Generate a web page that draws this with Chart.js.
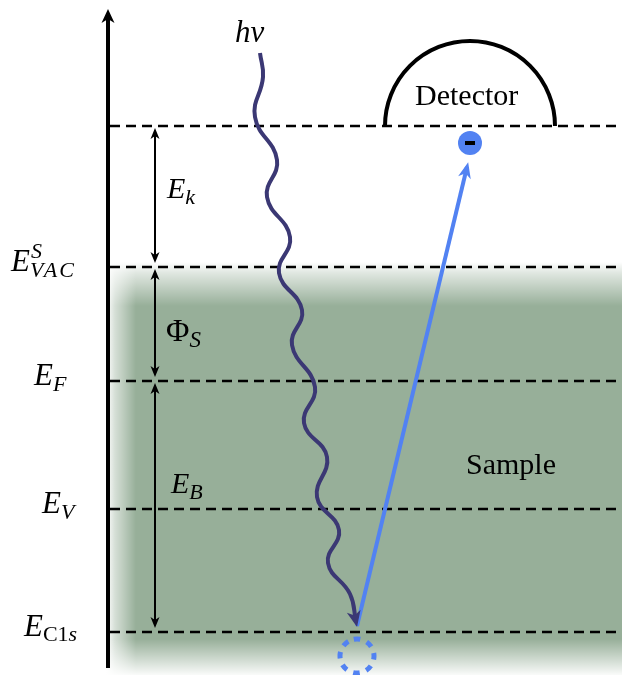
<!DOCTYPE html>
<html>
<head>
<meta charset="utf-8">
<script src="https://cdn.jsdelivr.net/npm/chart.js@4/dist/chart.umd.min.js"></script>
<style>
html, body { margin: 0; padding: 0; background: #fff; }
#diagrama { display: block; }
</style>
</head>
<body>
<canvas id="diagrama" width="622" height="675"></canvas>
<script>
// energy levels (picture units, y grows downwards)
var niveis = [126, 267, 381, 509, 632]
var nomesNiveis = [null, ['E', 'VAC', 'S'], ['E', 'F', ''], ['E', 'V', ''], ['E', 'C1s', '']]
// double arrows next to the axis: [top, bottom]
var setasEnergia = [[126, 267], [267, 381], [381, 632]]
var nomesSetas = [['E', 'k'], ['Φ', 'S'], ['E', 'B']]
// photon path (h nu)
var fotonX = [260, 263, 255, 277, 267, 290, 279, 302, 292, 315, 304, 327, 317, 339, 328, 350, 356]
var fotonY = [53, 77, 117, 160, 197, 237, 273, 310, 345, 387, 423, 457, 497, 530, 563, 594, 622]
// photoelectron path
var eletronX = [357, 467]
var eletronY = [626, 167]
var detector = { x: 470, y: 126, raio: 85 }
var lacuna = { x: 357, y: 656, raio: 17 }

var verde = 'rgb(151,175,153)'
var roxo = '#3b3874'
var azul = '#5282f2'
var serif = '"Liberation Serif", "DejaVu Serif", serif'

function pares(xs, ys) {
	var out = []
	for (var i = 0; i < xs.length; i++) out.push({ x: xs[i], y: ys[i] })
	return out
}

var datasets = []

// axis
datasets.push({
	data: [{ x: 108, y: 668 }, { x: 108, y: 14 }],
	borderColor: '#000', borderWidth: 4, setaFim: { comp: 14, larg: 6.5 }, order: 1
})

niveis.forEach(function (n) {
	datasets.push({
		data: [{ x: 110, y: n }, { x: 622, y: n }],
		borderColor: '#000', borderWidth: 2.5, borderDash: [10, 6], order: 3
	})
})

setasEnergia.forEach(function (s) {
	datasets.push({
		data: [{ x: 155, y: s[0] + 9 }, { x: 155, y: s[1] - 9 }],
		borderColor: '#000', borderWidth: 2,
		setaInicio: { comp: 11, larg: 4.5 }, setaFim: { comp: 11, larg: 4.5 }, order: 2
	})
})

datasets.push({
	data: pares(fotonX, fotonY),
	borderColor: roxo, borderWidth: 4, tension: 0.45,
	setaFim: { comp: 16, larg: 7 }, order: 1
})

datasets.push({
	data: pares(eletronX, eletronY),
	borderColor: azul, borderWidth: 4,
	setaFim: { comp: 16, larg: 6.5 }, order: 1
})

datasets.push({
	data: [{ x: 470, y: 143 }],
	showLine: false, pointRadius: 12, pointBackgroundColor: azul, pointBorderWidth: 0, order: 0
})

function ponta(ctx, x, y, ang, comp, larg, cor) {
	ctx.save()
	ctx.translate(x, y)
	ctx.rotate(ang)
	ctx.beginPath()
	ctx.moveTo(0, 0)
	ctx.lineTo(-comp, -larg)
	ctx.lineTo(-comp * 0.72, 0)
	ctx.lineTo(-comp, larg)
	ctx.closePath()
	ctx.fillStyle = cor
	ctx.fill()
	ctx.restore()
}

function rotulo(ctx, base, sub, sup, x, y, tam, baseReta) {
	ctx.textBaseline = 'alphabetic'
	ctx.textAlign = 'left'
	ctx.fillStyle = '#000'
	ctx.font = (baseReta ? '' : 'italic ') + tam + 'px ' + serif
	ctx.fillText(base, x, y)
	var w = ctx.measureText(base).width
	var t2 = Math.round(tam * 0.72)
	if (sup) {
		ctx.font = 'italic ' + t2 + 'px ' + serif
		ctx.fillText(sup, x + w + 1, y - 13)
	}
	if (sub) {
		var xs = x + w
		if (sub == 'C1s') {
			ctx.font = t2 + 'px ' + serif
			ctx.fillText('C1', xs, y + 5)
			xs += ctx.measureText('C1').width
			ctx.font = 'italic ' + t2 + 'px ' + serif
			ctx.fillText('s', xs, y + 5)
		} else {
			ctx.font = 'italic ' + t2 + 'px ' + serif
			ctx.letterSpacing = sub.length > 1 ? '2px' : '0px'
			ctx.fillText(sub, xs, y + 6)
			ctx.letterSpacing = '0px'
		}
	}
}

var fundoAmostra = {
	id: 'fundoAmostra',
	beforeDatasetsDraw: function (chart) {
		var ctx = chart.ctx, sx = chart.scales.x, sy = chart.scales.y
		var x0 = sx.getPixelForValue(106), x1 = sx.getPixelForValue(622)
		var y0 = sy.getPixelForValue(262), y1 = sy.getPixelForValue(675)
		ctx.save()
		ctx.fillStyle = verde
		ctx.fillRect(x0, y0, x1 - x0, y1 - y0)
		var g = ctx.createLinearGradient(0, y0, 0, y0 + 44)
		g.addColorStop(0, 'rgba(255,255,255,1)')
		g.addColorStop(0.25, 'rgba(255,255,255,0.7)')
		g.addColorStop(1, 'rgba(255,255,255,0)')
		ctx.fillStyle = g
		ctx.fillRect(x0, y0, x1 - x0, 44)
		g = ctx.createLinearGradient(x0, 0, x0 + 30, 0)
		g.addColorStop(0, 'rgba(255,255,255,1)')
		g.addColorStop(0.3, 'rgba(255,255,255,0.6)')
		g.addColorStop(1, 'rgba(255,255,255,0)')
		ctx.fillStyle = g
		ctx.fillRect(x0, y0, 30, y1 - y0)
		g = ctx.createLinearGradient(0, y1 - 36, 0, y1)
		g.addColorStop(0, 'rgba(255,255,255,0)')
		g.addColorStop(1, 'rgba(255,255,255,0.95)')
		ctx.fillStyle = g
		ctx.fillRect(x0, y1 - 36, x1 - x0, 36)
		ctx.restore()
	}
}

var extras = {
	id: 'extras',
	afterDatasetsDraw: function (chart) {
		var ctx = chart.ctx, sx = chart.scales.x, sy = chart.scales.y
		ctx.save()
		// arrow heads
		chart.data.datasets.forEach(function (ds, i) {
			var pts = chart.getDatasetMeta(i).data
			if (ds.setaFim) {
				var a = pts[pts.length - 2], b = pts[pts.length - 1]
				var ang = Math.atan2(b.y - a.y, b.x - a.x)
				ponta(ctx, b.x + Math.cos(ang) * 5, b.y + Math.sin(ang) * 5, ang, ds.setaFim.comp, ds.setaFim.larg, ds.borderColor)
			}
			if (ds.setaInicio) {
				var c = pts[1], d = pts[0]
				var ang2 = Math.atan2(d.y - c.y, d.x - c.x)
				ponta(ctx, d.x + Math.cos(ang2) * 7, d.y + Math.sin(ang2) * 7, ang2, ds.setaInicio.comp, ds.setaInicio.larg, ds.borderColor)
			}
		})
		// detector dome
		ctx.beginPath()
		ctx.arc(sx.getPixelForValue(detector.x), sy.getPixelForValue(detector.y), detector.raio, Math.PI, 2 * Math.PI)
		ctx.lineWidth = 4
		ctx.strokeStyle = '#000'
		ctx.stroke()
		// hole left in the core level
		ctx.beginPath()
		ctx.setLineDash([6.5, 6.9])
		ctx.arc(sx.getPixelForValue(lacuna.x), sy.getPixelForValue(lacuna.y), lacuna.raio, -Math.PI / 2 - 0.19, 1.5 * Math.PI - 0.19)
		ctx.lineWidth = 5
		ctx.strokeStyle = azul
		ctx.stroke()
		ctx.setLineDash([])
		// minus sign on the electron
		ctx.fillStyle = '#000'
		ctx.fillRect(sx.getPixelForValue(465), sy.getPixelForValue(141), 10, 4)

		// level names on the left
		var posX = [0, 11, 34, 42, 24]
		nomesNiveis.forEach(function (n, i) {
			if (!n) return
			rotulo(ctx, n[0], n[1], n[2], posX[i], sy.getPixelForValue(niveis[i]) + 4, 31)
		})
		// arrow names
		var posSetas = [[167, 198], [166, 341], [171, 493]]
		nomesSetas.forEach(function (n, i) {
			rotulo(ctx, n[0], n[1], '', posSetas[i][0], posSetas[i][1], n[0] == 'Φ' ? 32 : 30, n[0] == 'Φ')
		})
		ctx.font = 'italic 31px ' + serif
		ctx.fillText('hν', 235, 42)
		ctx.font = '30px ' + serif
		ctx.fillText('Detector', 415, 105)
		ctx.fillText('Sample', 466, 474)
		ctx.restore()
	}
}

var config = {
	type: 'scatter',
	data: { datasets: datasets },
	options: {
		responsive: false,
		animation: false,
		events: [],
		layout: { padding: 0, autoPadding: false },
		showLine: true,
		elements: { point: { radius: 0 }, line: { borderCapStyle: 'butt' } },
		clip: false,
		scales: {
			x: { type: 'linear', min: 0, max: 622, display: false },
			y: { type: 'linear', min: 0, max: 675, reverse: true, display: false }
		},
		plugins: { legend: { display: false }, tooltip: { enabled: false } }
	},
	plugins: [fundoAmostra, extras]
}

var ctx = document.getElementById('diagrama').getContext('2d')
window.diagrama = new Chart(ctx, config)
</script>
</body>
</html>
